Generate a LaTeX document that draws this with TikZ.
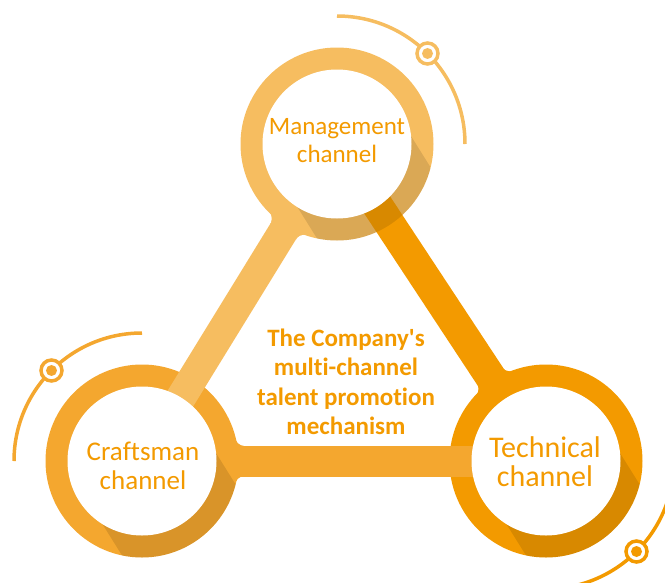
\documentclass[tikz,border=0pt]{standalone}
\usepackage{fontspec}
\setmainfont{Carlito}[Ligatures={TeXOff,NoCommon}]
\usetikzlibrary{calc}

\definecolor{mgmtcol}{HTML}{F6BD60}
\definecolor{craftcol}{HTML}{F4A72F}
\definecolor{techcol}{HTML}{F39A00}
\definecolor{textcol}{HTML}{F39A00}

\begin{document}
\begin{tikzpicture}[x=1pt,y=-1pt,
    chantext/.style={text=textcol, align=center, inner sep=0pt, font=\fontsize{27}{29}\selectfont},
    centretext/.style={text=textcol, align=center, inner sep=0pt, font=\bfseries\fontsize{25}{29.5}\selectfont},
    marker/.style={line width=3.5, fill=white}]
        % Picture frame
        \clip (0,0) rectangle (665,582);

        % Ring centres
        \coordinate (mgmt) at (337,144);
        \coordinate (craft) at (142,461);
        \coordinate (tech) at (546,461);

        % Rounded joins where each bar leaves its own ring
        \foreach \ring/\other/\col in {mgmt/craft/mgmtcol, craft/tech/craftcol, tech/mgmt/techcol} {
            \foreach \side in {90,-90} {
                \coordinate (fc) at ($(\ring)!103pt!(\other)!25pt!\side:(\other)$);
                \fill[\col] (fc) -- ($(\ring)!96pt!(fc)$) -- (\ring)
                    -- ($(\ring)!103pt!(\other)!15pt!\side:(\other)$) -- cycle;
                \fill[white] (fc) circle (10);
            }
        }

        % Draw the rings
        \foreach \ring/\col in {mgmt/mgmtcol, craft/craftcol, tech/techcol} {
            \fill[\col] (\ring) circle (96.5);
        }

        % Draw the bars between the rings
        \draw[mgmtcol, line width=30] (mgmt) -- (craft);
        \draw[craftcol, line width=31] (craft) -- (tech);
        \draw[techcol, line width=31] (tech) -- (mgmt);

        % Shadows on the lower right of each ring
        \foreach \ring in {mgmt, craft, tech} {
            \begin{scope}
                \clip (\ring) circle (96.5);
                \fill[black, opacity=0.11] ($(\ring)+(56.8,-35.5)$) -- ++(116.6,186.6)
                    -- ++(-113.6,71) -- ++(-116.6,-186.6) -- cycle;
            \end{scope}
        }

        % White centres
        \foreach \ring in {mgmt, craft, tech} {
            \fill[white] (\ring) circle (74.5);
        }

        % Outer arcs with their markers
        \draw[mgmtcol, line width=3.5] ($(mgmt)+(0,-128)$) arc[start angle=-90, end angle=0, radius=128];
        \draw[craftcol, line width=3.5] ($(craft)+(0,-128)$) arc[start angle=-90, end angle=-180, radius=128];
        \draw[techcol, line width=3.5] ($(tech)+(0,128)$) arc[start angle=90, end angle=0, radius=128];
        \foreach \ring/\col/\ang in {mgmt/mgmtcol/-45, craft/craftcol/-135, tech/techcol/45} {
            \coordinate (m) at ($(\ring)+(\ang:128)$);
            \draw[\col, marker] (m) circle (10.5);
            \fill[\col] (m) circle (5.5);
        }

        % Labels
        \node[chantext, font=\fontsize{25}{28}\selectfont] (mgmtlabel) at (337,141) {Management\\channel};
        \node[chantext] (craftlabel) at (143,466) {Craftsman\\channel};
        \node[chantext, font=\fontsize{30}{29}\selectfont] (techlabel) at (545,462) {Technical\\channel};
        \node[centretext] (mech) at (346,382) {The Company's\\multi-channel\\talent promotion\\mechanism};
    \end{tikzpicture}
\end{document}
